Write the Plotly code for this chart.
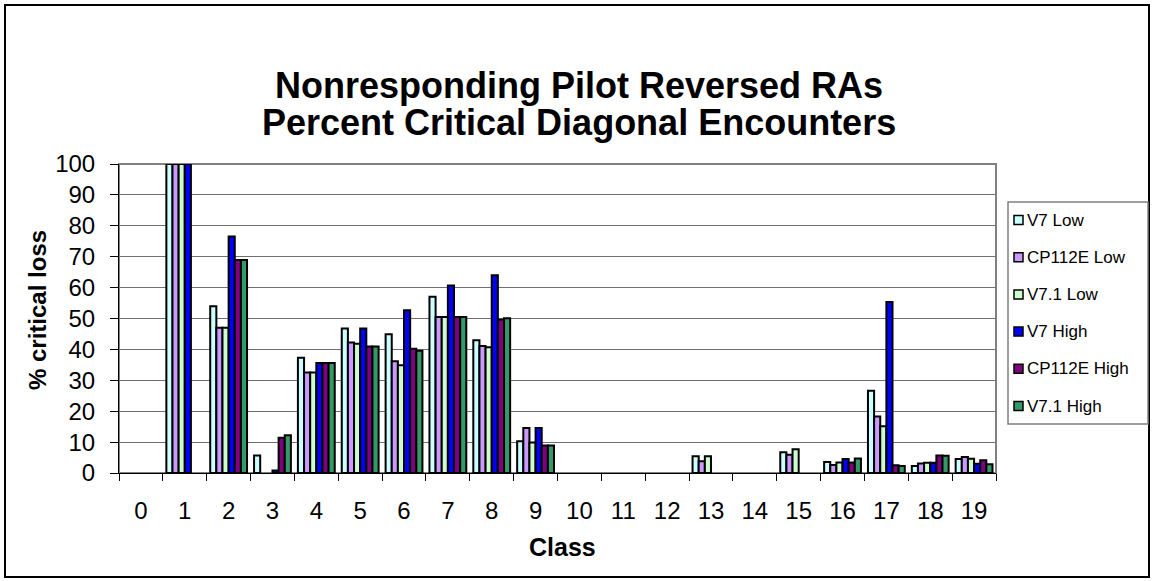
import plotly.graph_objects as go

# classes on the x axis
classes = [str(i) for i in range(20)]

v7_low = [0, 100, 54, 5.7, 37.3, 46.8, 44.9, 57, 43, 10.3, 0, 0, 0, 5.4, 0, 6.7, 3.6, 26.6, 2.3, 4.5]
cp112e_low = [0, 100, 47, 0, 32.5, 42.2, 36.2, 50.5, 41.1, 14.6, 0, 0, 0, 3.8, 0, 5.9, 2.6, 18.3, 3.1, 5.2]
v71_low = [0, 100, 47, 0, 32.5, 41.8, 34.9, 50.5, 40.7, 9.9, 0, 0, 0, 5.4, 0, 7.7, 3.4, 15.1, 3.3, 4.6]
v7_high = [0, 100, 76.5, 0.8, 35.6, 46.8, 52.7, 60.7, 64, 14.6, 0, 0, 0, 0, 0, 0, 4.5, 55.3, 3.3, 3.0]
cp112e_high = [0, 0, 68.9, 11.4, 35.6, 40.9, 40.2, 50.5, 49.6, 8.9, 0, 0, 0, 0, 0, 0, 3.4, 2.5, 5.7, 4.1]
v71_high = [0, 0, 68.9, 12.2, 35.6, 40.9, 39.6, 50.5, 50.1, 8.9, 0, 0, 0, 0, 0, 0, 4.7, 2.3, 5.6, 2.8]

series = [
    ("V7 Low", v7_low, "#CCFFFF"),
    ("CP112E Low", cp112e_low, "#CC99FF"),
    ("V7.1 Low", v71_low, "#CCFFCC"),
    ("V7 High", v7_high, "#0000FF"),
    ("CP112E High", cp112e_high, "#800080"),
    ("V7.1 High", v71_high, "#339966"),
]

title_lines = ["Nonresponding Pilot Reversed RAs", "Percent Critical Diagonal Encounters"]

W, H = 1154, 581
L, R, T, B = 119, 996, 164, 473  # plot area in pixels


def px(x):
    return (x - L) / (R - L)


def py(y):
    return (B - y) / (B - T)


FONT = "Arial, Liberation Sans, sans-serif"

fig = go.Figure()
for name, vals, col in series:
    fig.add_trace(go.Bar(
        x=classes, y=[v if v else None for v in vals], name=name,
        marker=dict(color=col, line=dict(color="black", width=2)),
        showlegend=False,
    ))

fig.update_layout(
    width=W, height=H,
    margin=dict(l=L, r=W - R, t=T, b=H - B, pad=0),
    paper_bgcolor="white", plot_bgcolor="white",
    barmode="group", bargap=0.16, bargroupgap=0,
    font=dict(family=FONT, color="black"),
)

fig.update_xaxes(
    type="category", tickson="boundaries", ticks="outside", ticklen=7,
    tickcolor="black", showline=True, linecolor="black", linewidth=1,
    tickfont=dict(size=24), ticklabelstandoff=16, showgrid=False,
)
fig.update_yaxes(
    range=[0, 100], dtick=10, ticks="outside", ticklen=8, tickcolor="black",
    showline=True, linecolor="black", linewidth=1,
    showgrid=True, gridcolor="#707070", gridwidth=1,
    tickfont=dict(size=24), ticklabelstandoff=10, zeroline=False,
)

# gray frame of plot area
fig.add_shape(type="rect", xref="paper", yref="paper", x0=0, x1=1, y0=0, y1=1,
              line=dict(color="#808080", width=2), layer="below")
# outer border of chart
fig.add_shape(type="rect", xref="paper", yref="paper",
              x0=px(5), x1=px(1149), y0=py(577), y1=py(5),
              line=dict(color="black", width=2))

# title, one annotation per line to keep the tight line spacing
for i, line in enumerate(title_lines):
    fig.add_annotation(text="<b>%s</b>" % line, xref="paper", yref="paper",
                       x=px(579), y=py(85 + i * 38), xanchor="center", yanchor="middle",
                       showarrow=False, font=dict(size=36, family=FONT))

fig.add_annotation(text="<b>% critical loss</b>", textangle=-90,
                   xref="paper", yref="paper", x=px(37), y=py(310),
                   xanchor="center", yanchor="middle",
                   showarrow=False, font=dict(size=24, family=FONT))
fig.add_annotation(text="<b>Class</b>",
                   xref="paper", yref="paper", x=px(562), y=py(547),
                   xanchor="center", yanchor="middle",
                   showarrow=False, font=dict(size=25, family=FONT))

# legend box drawn by hand
fig.add_shape(type="rect", xref="paper", yref="paper",
              x0=px(1008), x1=px(1148), y0=py(424), y1=py(202),
              line=dict(color="#808080", width=1.5), fillcolor="white")
for i, (name, vals, col) in enumerate(series):
    yc = 220 + i * 37.2
    fig.add_shape(type="rect", xref="paper", yref="paper",
                  x0=px(1014), x1=px(1023), y0=py(yc + 4.5), y1=py(yc - 4.5),
                  line=dict(color="black", width=1.5), fillcolor=col)
    fig.add_annotation(text=name, xref="paper", yref="paper",
                       x=px(1025), y=py(yc), xanchor="left", yanchor="middle",
                       showarrow=False, font=dict(size=17, family=FONT))

fig.write_html("out.html", config={"displayModeBar": False},
               post_script="document.body.style.margin='0px';")
